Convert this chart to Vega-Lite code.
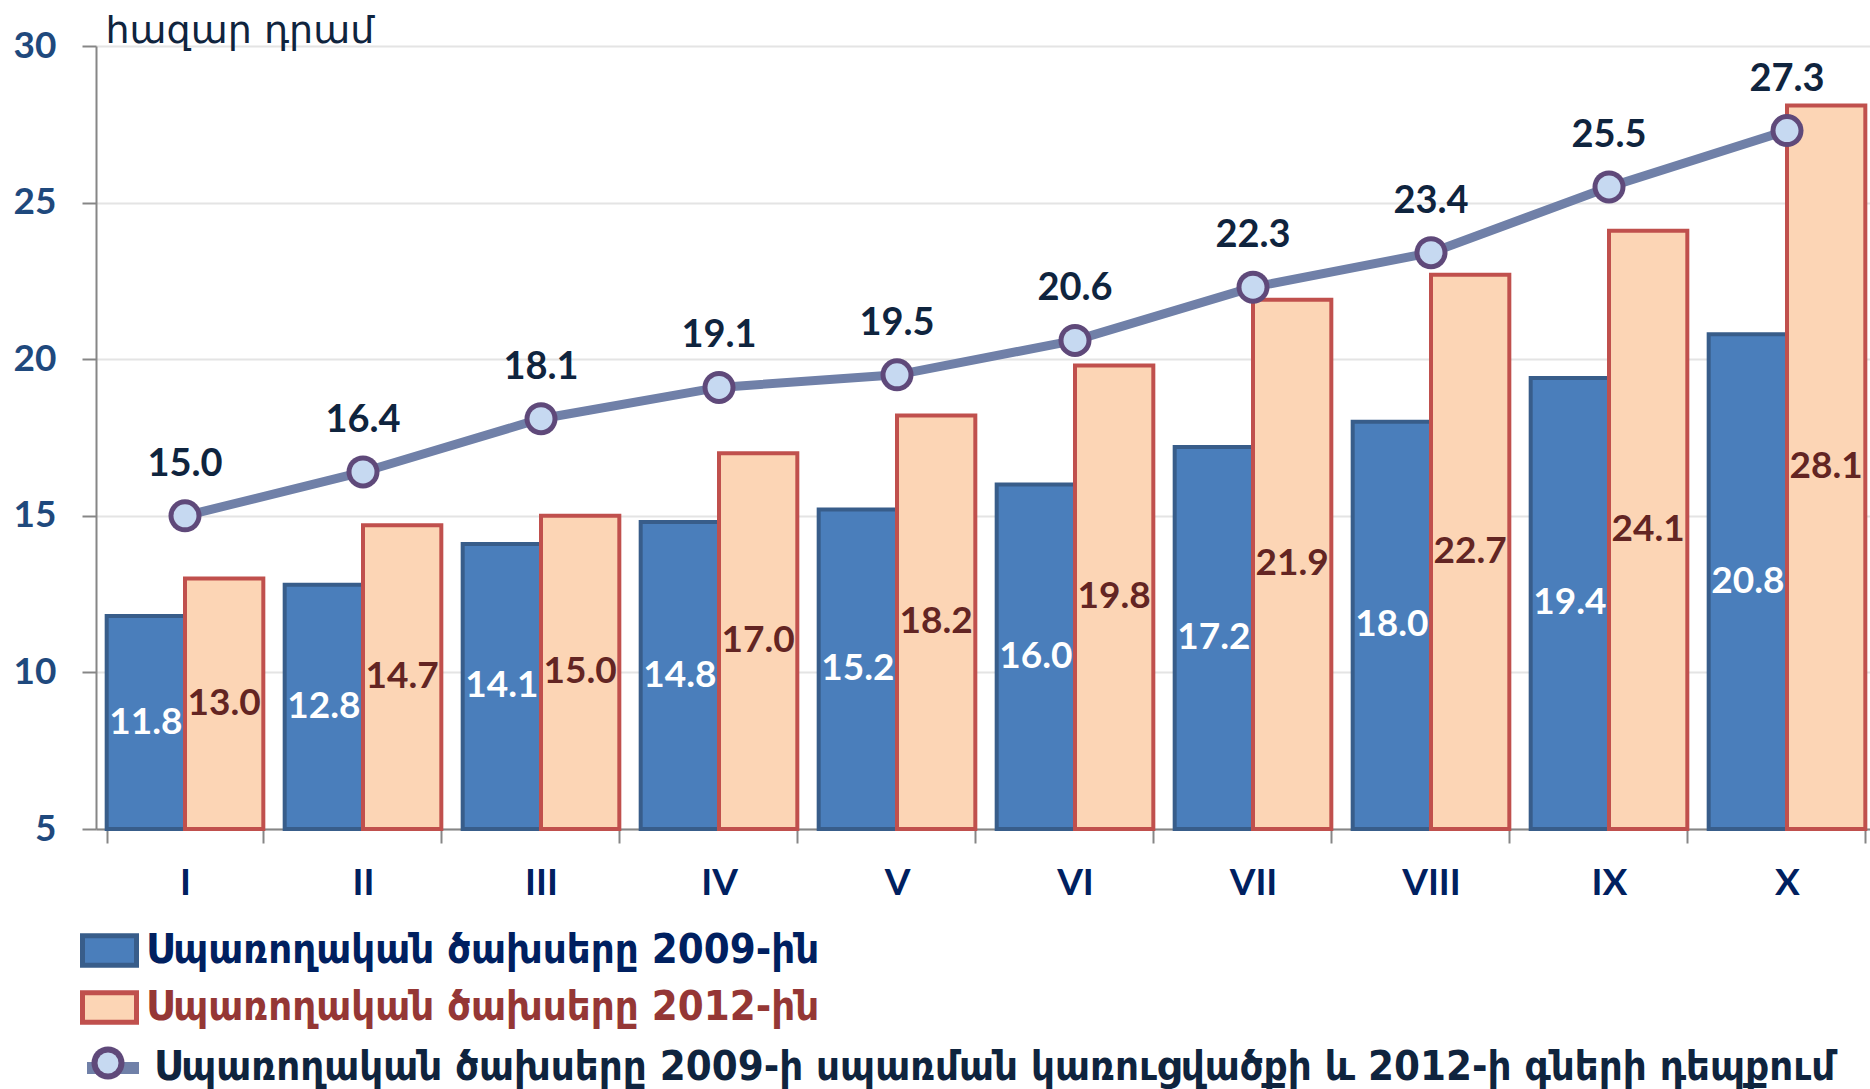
{
  "$schema": "https://vega.github.io/schema/vega-lite/v6.json",
  "width": 1780,
  "height": 783,
  "autosize": "none",
  "padding": {"left": 96, "top": 46, "right": 0, "bottom": 260},
  "background": "white",
  "config": {"view": {"stroke": null}},
  "data": {
    "values": [
      {"m": "I", "s": "Սպառողական ծախսերը 2009-ին", "v": 11.8},
      {"m": "II", "s": "Սպառողական ծախսերը 2009-ին", "v": 12.8},
      {"m": "III", "s": "Սպառողական ծախսերը 2009-ին", "v": 14.1},
      {"m": "IV", "s": "Սպառողական ծախսերը 2009-ին", "v": 14.8},
      {"m": "V", "s": "Սպառողական ծախսերը 2009-ին", "v": 15.2},
      {"m": "VI", "s": "Սպառողական ծախսերը 2009-ին", "v": 16.0},
      {"m": "VII", "s": "Սպառողական ծախսերը 2009-ին", "v": 17.2},
      {"m": "VIII", "s": "Սպառողական ծախսերը 2009-ին", "v": 18.0},
      {"m": "IX", "s": "Սպառողական ծախսերը 2009-ին", "v": 19.4},
      {"m": "X", "s": "Սպառողական ծախսերը 2009-ին", "v": 20.8},
      {"m": "I", "s": "Սպառողական ծախսերը 2012-ին", "v": 13.0},
      {"m": "II", "s": "Սպառողական ծախսերը 2012-ին", "v": 14.7},
      {"m": "III", "s": "Սպառողական ծախսերը 2012-ին", "v": 15.0},
      {"m": "IV", "s": "Սպառողական ծախսերը 2012-ին", "v": 17.0},
      {"m": "V", "s": "Սպառողական ծախսերը 2012-ին", "v": 18.2},
      {"m": "VI", "s": "Սպառողական ծախսերը 2012-ին", "v": 19.8},
      {"m": "VII", "s": "Սպառողական ծախսերը 2012-ին", "v": 21.9},
      {"m": "VIII", "s": "Սպառողական ծախսերը 2012-ին", "v": 22.7},
      {"m": "IX", "s": "Սպառողական ծախսերը 2012-ին", "v": 24.1},
      {"m": "X", "s": "Սպառողական ծախսերը 2012-ին", "v": 28.1},
      {"m": "I", "s": "Սպառողական ծախսերը 2009-ի սպառման կառուցվածքի և 2012-ի գների դեպքում", "v": 15.0},
      {"m": "II", "s": "Սպառողական ծախսերը 2009-ի սպառման կառուցվածքի և 2012-ի գների դեպքում", "v": 16.4},
      {"m": "III", "s": "Սպառողական ծախսերը 2009-ի սպառման կառուցվածքի և 2012-ի գների դեպքում", "v": 18.1},
      {"m": "IV", "s": "Սպառողական ծախսերը 2009-ի սպառման կառուցվածքի և 2012-ի գների դեպքում", "v": 19.1},
      {"m": "V", "s": "Սպառողական ծախսերը 2009-ի սպառման կառուցվածքի և 2012-ի գների դեպքում", "v": 19.5},
      {"m": "VI", "s": "Սպառողական ծախսերը 2009-ի սպառման կառուցվածքի և 2012-ի գների դեպքում", "v": 20.6},
      {"m": "VII", "s": "Սպառողական ծախսերը 2009-ի սպառման կառուցվածքի և 2012-ի գների դեպքում", "v": 22.3},
      {"m": "VIII", "s": "Սպառողական ծախսերը 2009-ի սպառման կառուցվածքի և 2012-ի գների դեպքում", "v": 23.4},
      {"m": "IX", "s": "Սպառողական ծախսերը 2009-ի սպառման կառուցվածքի և 2012-ի գների դեպքում", "v": 25.5},
      {"m": "X", "s": "Սպառողական ծախսերը 2009-ի սպառման կառուցվածքի և 2012-ի գների դեպքում", "v": 27.3}
    ]
  },
  "encoding": {
    "x": {
      "field": "m",
      "type": "nominal",
      "scale": {"domain": ["I", "II", "III", "IV", "V", "VI", "VII", "VIII", "IX", "X"], "paddingInner": 0.12, "paddingOuter": 0.06},
      "axis": {
        "title": null,
        "labelAngle": 0,
        "labelFont": "Lato",
        "labelFontWeight": "bold",
        "labelFontSize": 37,
        "labelColor": "#002060",
        "labelPadding": 22,
        "tickBand": "extent",
        "tickSize": 14,
        "tickColor": "#868686",
        "tickWidth": 2,
        "domainColor": "#868686",
        "domainWidth": 2,
        "grid": false
      }
    }
  },
  "layer": [
    {
      "layer": [
        {
          "transform": [{"filter": {"field": "s", "equal": "Սպառողական ծախսերը 2009-ին"}}],
          "mark": {"type": "bar", "stroke": "#385D8A", "strokeWidth": 4},
          "encoding": {
            "xOffset": {"field": "s", "type": "nominal", "scale": {"domain": ["Սպառողական ծախսերը 2009-ին", "Սպառողական ծախսերը 2012-ին"]}},
            "y": {
              "field": "v",
              "type": "quantitative",
              "scale": {"domain": [5, 30], "nice": false, "zero": false},
              "axis": {
                "values": [5, 10, 15, 20, 25, 30],
                "grid": true,
                "gridColor": "#E4E4E4",
                "gridWidth": 2,
                "domainColor": "#868686",
                "domainWidth": 2,
                "tickColor": "#868686",
                "tickWidth": 2,
                "tickSize": 14,
                "labelPadding": 26,
                "labelFont": "Lato",
                "labelFontWeight": "bold",
                "labelFontSize": 37,
                "labelColor": "#1F497D",
                "title": "հազար դրամ",
                "titleAngle": 0,
                "titleAlign": "left",
                "titleBaseline": "alphabetic",
                "titleX": 9,
                "titleY": -4,
                "titleFont": "DejaVu Sans",
                "titleFontWeight": "normal",
                "titleFontSize": 38,
                "titleColor": "#0F243E"
              }
            },
            "y2": {"datum": 5},
            "fill": {
              "field": "s",
              "type": "nominal",
              "scale": {"domain": ["Սպառողական ծախսերը 2009-ին"], "range": ["#4A7EBB"]},
              "legend": {
                "title": null,
                "orient": "none",
                "legendX": -16,
                "legendY": 875,
                "labelOffset": 7,
                "symbolSize": 2916,
                "symbolType": "M-1,-0.55H1V0.55H-1Z",
                "symbolStrokeColor": "#385D8A",
                "symbolStrokeWidth": 5,
                "symbolOpacity": 1,
                "labelFont": "DejaVu Sans Condensed",
                "labelFontWeight": "bold",
                "labelFontSize": 41.5,
                "labelColor": "#002060",
                "labelLimit": 3000,
                "padding": 0
              }
            }
          }
        },
        {
          "transform": [{"filter": {"field": "s", "equal": "Սպառողական ծախսերը 2012-ին"}}],
          "mark": {"type": "bar", "stroke": "#C0504D", "strokeWidth": 4},
          "encoding": {
            "xOffset": {"field": "s", "type": "nominal"},
            "y": {"field": "v", "type": "quantitative"},
            "y2": {"datum": 5},
            "color": {
              "field": "s",
              "type": "nominal",
              "scale": {"domain": ["Սպառողական ծախսերը 2012-ին"], "range": ["#FCD5B5"]},
              "legend": {
                "title": null,
                "orient": "none",
                "legendX": -16,
                "legendY": 932,
                "labelOffset": 7,
                "symbolSize": 2916,
                "symbolType": "M-1,-0.55H1V0.55H-1Z",
                "symbolStrokeColor": "#C0504D",
                "symbolStrokeWidth": 5,
                "symbolOpacity": 1,
                "labelFont": "DejaVu Sans Condensed",
                "labelFontWeight": "bold",
                "labelFontSize": 41.5,
                "labelColor": "#953735",
                "labelLimit": 3000,
                "padding": 0
              }
            }
          }
        },
        {
          "transform": [{"filter": {"field": "s", "equal": "Սպառողական ծախսերը 2009-ի սպառման կառուցվածքի և 2012-ի գների դեպքում"}}],
          "mark": {"type": "line", "strokeWidth": 9},
          "encoding": {
            "y": {"field": "v", "type": "quantitative"},
            "stroke": {
              "field": "s",
              "type": "nominal",
              "scale": {"range": ["#7080A8"]},
              "legend": {
                "title": null,
                "orient": "none",
                "legendX": -15,
                "legendY": 990,
                "labelOffset": 9,
                "symbolSize": 2704,
                "symbolType": "stroke",
                "symbolStrokeWidth": 12,
                "symbolOpacity": 1,
                "labelFont": "DejaVu Sans Condensed",
                "labelFontWeight": "bold",
                "labelFontSize": 41.5,
                "labelColor": "#0F243E",
                "labelLimit": 3000,
                "padding": 0
              }
            }
          }
        },
        {
          "transform": [{"filter": {"field": "s", "equal": "Սպառողական ծախսերը 2009-ի սպառման կառուցվածքի և 2012-ի գների դեպքում"}}],
          "mark": {"type": "point", "filled": true, "fill": "#5F497A", "strokeWidth": 0, "size": 1089, "opacity": 1},
          "encoding": {
            "y": {"field": "v", "type": "quantitative"},
            "shape": {
              "field": "s",
              "type": "nominal",
              "scale": {"domain": ["Սպառողական ծախսերը 2009-ի սպառման կառուցվածքի և 2012-ի գների դեպքում"], "range": ["circle"]},
              "legend": {
                "title": null,
                "orient": "none",
                "legendX": -4.5,
                "legendY": 1000.5,
                "symbolSize": 1089,
                "symbolStrokeWidth": 0,
                "symbolOpacity": 1,
                "labelExpr": "''",
                "labelFontSize": 10,
                "padding": 0
              }
            }
          }
        },
        {
          "transform": [{"filter": {"field": "s", "equal": "Սպառողական ծախսերը 2009-ի սպառման կառուցվածքի և 2012-ի գների դեպքում"}}],
          "mark": {"type": "point", "filled": true, "fill": "#C6D9F1", "strokeWidth": 0, "size": 529},
          "encoding": {
            "y": {"field": "v", "type": "quantitative"},
            "opacity": {
              "field": "s",
              "type": "nominal",
              "sort": "descending",
              "scale": {"range": [1]},
              "legend": {
                "title": null,
                "orient": "none",
                "legendX": 1.5,
                "legendY": 1006.5,
                "symbolSize": 441,
                "symbolType": "circle",
                "symbolStrokeWidth": 0,
                "labelExpr": "''",
                "labelFontSize": 10,
                "padding": 0
              }
            }
          }
        },
        {
          "transform": [{"filter": {"field": "s", "equal": "Սպառողական ծախսերը 2009-ի սպառման կառուցվածքի և 2012-ի գների դեպքում"}}],
          "mark": {"type": "text", "dy": -51, "font": "Lato", "fontWeight": "bold", "fontSize": 38, "fill": "#0F243E", "baseline": "middle"},
          "encoding": {
            "y": {"field": "v", "type": "quantitative"},
            "text": {"field": "v", "type": "quantitative", "format": ".1f"}
          }
        }
      ]
    },
    {
      "transform": [{"filter": {"field": "s", "oneOf": ["Սպառողական ծախսերը 2009-ին", "Սպառողական ծախսերը 2012-ին"]}}],
      "mark": {"type": "text", "font": "Lato", "fontWeight": "bold", "fontSize": 37, "baseline": "middle"},
      "encoding": {
        "xOffset": {"field": "s", "type": "nominal"},
        "y": {"field": "v", "type": "quantitative", "scale": {"domain": [5, 55], "nice": false, "zero": false}, "axis": null},
        "text": {"field": "v", "type": "quantitative", "format": ".1f"},
        "fill": {"condition": {"test": {"field": "s", "equal": "Սպառողական ծախսերը 2009-ին"}, "value": "#FFFFFF"}, "value": "#632523"}
      }
    }
  ],
  "resolve": {"scale": {"y": "independent"}}
}
